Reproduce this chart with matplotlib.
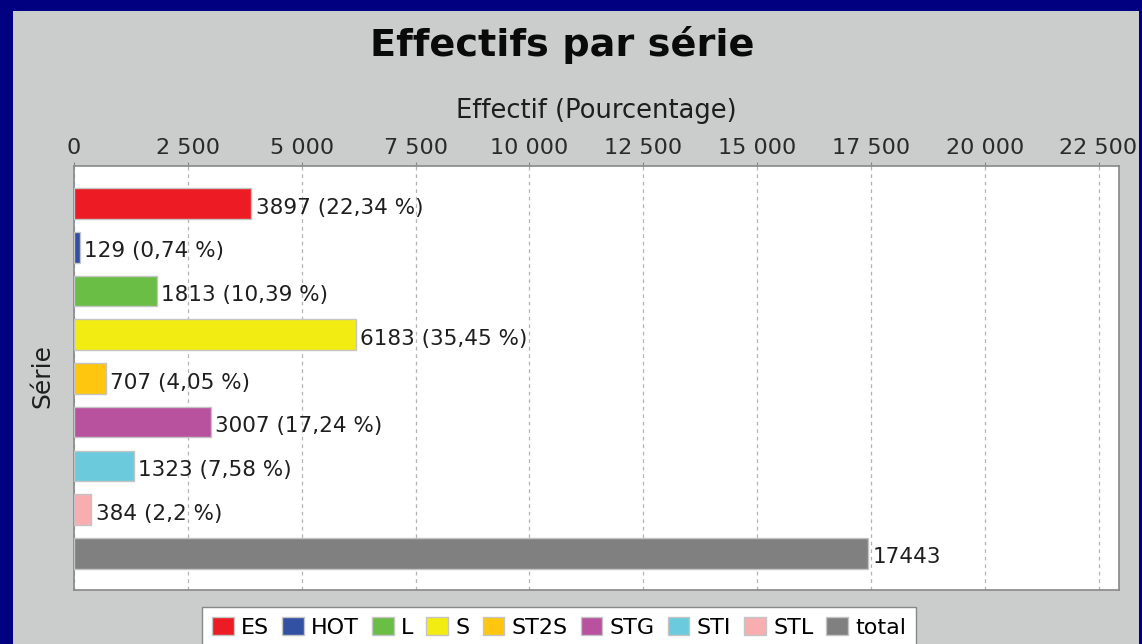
import matplotlib
matplotlib.use('Agg')
import matplotlib.pyplot as plt
from matplotlib.patches import Rectangle, Patch
from matplotlib.ticker import FuncFormatter

series = ['ES', 'HOT', 'L', 'S', 'ST2S', 'STG', 'STI', 'STL', 'total']
effectifs = [3897, 129, 1813, 6183, 707, 3007, 1323, 384, 17443]
pourcentages = [22.34, 0.74, 10.39, 35.45, 4.05, 17.24, 7.58, 2.2, None]
couleurs = ['#ed1c24', '#3251a3', '#6abd45', '#f3ec12', '#fec60f',
            '#b8529e', '#6bcbdd', '#f8aeb0', '#808080']
graduations = [0, 2500, 5000, 7500, 10000, 12500, 15000, 17500, 20000, 22500]

plt.rcParams['font.family'] = ['DejaVu Sans']

W, H = 1142, 644
fig = plt.figure(figsize=(W / 100, H / 100), dpi=100)
fig.patch.set_facecolor('#000080')

# gray panel behind the chart
fig.add_artist(Rectangle((13 / W, 0), (1139 - 13) / W, 633 / H, transform=fig.transFigure,
                         facecolor='#cbcdcc', edgecolor='none', zorder=-1))

ax = fig.add_axes([74 / W, 54 / H, 1045 / W, 424 / H])
ax.set_facecolor('white')
pos = list(range(len(series)))
ax.barh(pos, effectifs, height=0.7, color=couleurs, edgecolor='#c4c4c4', linewidth=1, zorder=3)

ax.set_ylim(8.84, -0.86)
ax.set_xlim(0, 22950)
ax.xaxis.tick_top()
ax.xaxis.set_label_position('top')
ax.set_xticks(graduations)
ax.xaxis.set_major_formatter(FuncFormatter(lambda v, p: f'{int(v):,}'.replace(',', ' ')))
ax.tick_params(axis='x', length=3, color='#888888', labelsize=16, labelcolor='#2a2a2a', pad=2.5)
ax.set_yticks([])
ax.grid(axis='x', color='#b4b4b4', linestyle=(0, (3, 3)), linewidth=0.9)
ax.set_axisbelow(True)
for s in ax.spines.values():
    s.set_color('#888888')
    s.set_linewidth(1.2)

# value labels
for i, (v, p) in enumerate(zip(effectifs, pourcentages)):
    txt = str(v) if p is None else f'{v} ({str(p).replace(".", ",")} %)'
    ax.annotate(txt, (v, i), xytext=(3, -3), textcoords='offset points',
                va='center', ha='left', fontsize=15.5, color='#1e1e1e', zorder=4)

ax.set_xlabel('Effectif (Pourcentage)', fontsize=18.5, color='#1e1e1e', labelpad=15)
fig.text(562 / W, 1 - 56 / H, 'Effectifs par série', ha='center', va='baseline',
         fontsize=27.5, fontweight='bold', color='#0a0a0a')
fig.text(42 / W, 1 - 376 / H, 'Série', rotation=90, ha='center', va='center',
         fontsize=18, color='#1e1e1e')

handles = [Patch(facecolor=c, edgecolor='#c4c4c4') for c in couleurs]
fig.legend(handles, series, loc='upper left', bbox_to_anchor=(202 / W, 1 - 607 / H),
           ncol=len(series), fontsize=16, frameon=True, fancybox=False, framealpha=1,
           edgecolor='#888888', handlelength=0.97, handleheight=0.9, handletextpad=0.34,
           columnspacing=0.58, borderpad=0.45, borderaxespad=0)

# clip at the right edge like the original
fig.add_artist(Rectangle((1139 / W, 0), 3 / W, 1, transform=fig.transFigure,
                         facecolor='#000080', edgecolor='none', zorder=10))

plt.savefig('out.png', dpi=100, facecolor=fig.get_facecolor())
